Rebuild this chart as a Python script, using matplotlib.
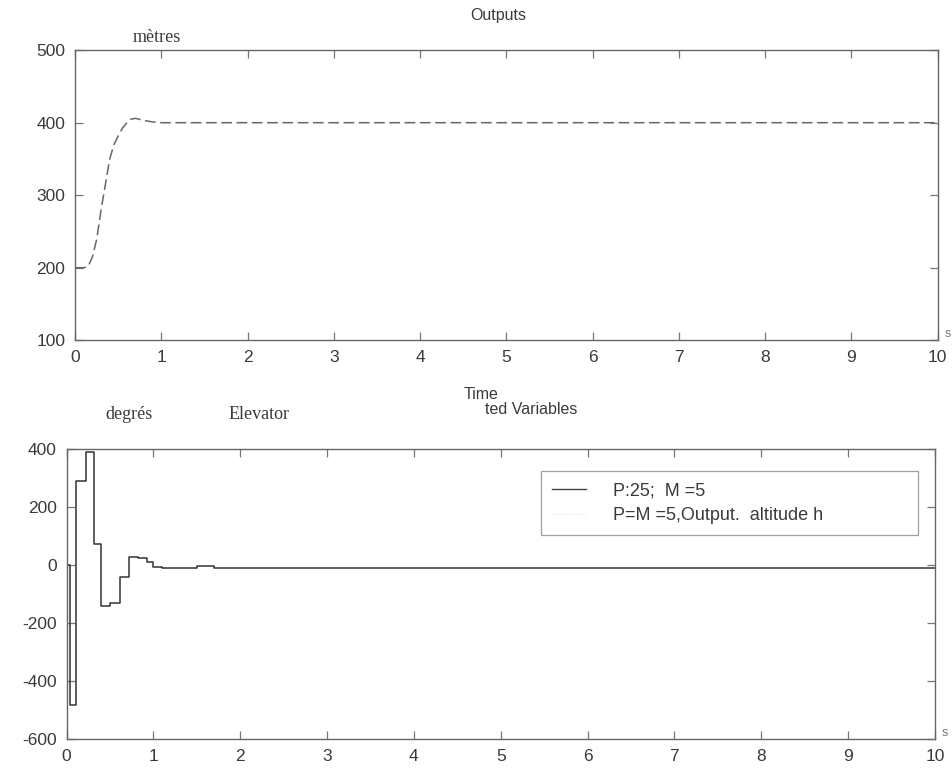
import numpy as np
import matplotlib
matplotlib.use("Agg")
import matplotlib.pyplot as plt
from matplotlib.lines import Line2D

# altitude response (metres)
t_alt = [0, 0.1, 0.15, 0.2, 0.25, 0.3, 0.35, 0.4, 0.45, 0.5, 0.55, 0.6, 0.65, 0.7, 0.8, 0.9, 1.0, 2.0, 10.0]
h_alt = [200, 200, 202, 215, 240, 280, 315, 350, 370, 382, 393, 400, 405, 406, 403, 401, 400, 400, 400]

# elevator command (degrés), piecewise constant
t_elev = [0, 0.04, 0.11, 0.22, 0.32, 0.40, 0.50, 0.62, 0.72, 0.82, 0.92, 1.0, 1.1, 1.5, 1.7, 10.0]
u_elev = [0, -480, 290, 390, 75, -140, -130, -40, 30, 25, 10, -5, -10, -3, -8, -8]

x_ticks = list(range(0, 11))
top_yticks = [100, 200, 300, 400, 500]
bot_yticks = [-600, -400, -200, 0, 200, 400]
legend_labels = ["P:25;  M =5", "P=M =5,Output.  altitude h"]

INK = "#3a3a3a"
plt.rcParams["font.family"] = ["Liberation Sans", "DejaVu Sans"]
plt.rcParams["axes.unicode_minus"] = False

fig = plt.figure(figsize=(9.52, 7.84), dpi=100)
ax1 = fig.add_axes([0.079, 0.566, 0.906, 0.370])
ax2 = fig.add_axes([0.070, 0.057, 0.912, 0.370])


def style(ax, yticks):
    ax.set_xlim(0, 10)
    ax.set_ylim(yticks[0], yticks[-1])
    ax.set_xticks(x_ticks)
    ax.set_yticks(yticks)
    ax.tick_params(direction="in", top=True, right=True, length=6,
                   width=0.9, color="#777", labelsize=12.5, labelcolor=INK,
                   pad=7)
    for s in ax.spines.values():
        s.set_color("#666")
        s.set_linewidth(1.0)


style(ax1, top_yticks)
ax1.plot(t_alt, h_alt, color="#666", lw=1.1, ls=(0, (7, 3)))
ax1.set_title("Outputs", fontsize=11.5, color=INK, pad=22, x=0.49)
ax1.text(0.095, 1.015, "mètres", transform=ax1.transAxes, family="Liberation Serif",
         fontsize=13, color=INK, ha="center", va="bottom")
ax1.text(0.47, -0.16, "Time", transform=ax1.transAxes, fontsize=11.5,
         color=INK, ha="center", va="top")
ax1.text(1.008, 0.0, "s", transform=ax1.transAxes, fontsize=9,
         color="#777", ha="left", va="bottom")

style(ax2, bot_yticks)
ax2.step(t_elev, u_elev, where="post", color="#333", lw=1.1)
ax2.text(0.072, 1.09, "degrés", transform=ax2.transAxes, family="Liberation Serif",
         fontsize=13, color=INK, ha="center", va="bottom")
ax2.text(0.222, 1.09, "Elevator", transform=ax2.transAxes, family="Liberation Serif",
         fontsize=13, color=INK, ha="center", va="bottom")
ax2.text(0.535, 1.11, "ted Variables", transform=ax2.transAxes, fontsize=11.5,
         color=INK, ha="center", va="bottom")
ax2.text(1.008, 0.0, "s", transform=ax2.transAxes, fontsize=9,
         color="#777", ha="left", va="bottom")

handles = [Line2D([], [], color="#444", lw=1.0),
           Line2D([], [], color="#e4e4e4", lw=0.8, ls=":")]
leg = ax2.legend(handles, legend_labels, loc="upper left",
                 bbox_to_anchor=(0.536, 0.955, 0.455, 0.0), mode="expand",
                 fontsize=13, frameon=True, fancybox=False,
                 handlelength=1.9, handletextpad=1.5, borderpad=0.6,
                 labelspacing=0.45, labelcolor=INK)
leg.get_frame().set_edgecolor("#888")
leg.get_frame().set_linewidth(0.9)

fig.savefig("out.png", dpi=100)
